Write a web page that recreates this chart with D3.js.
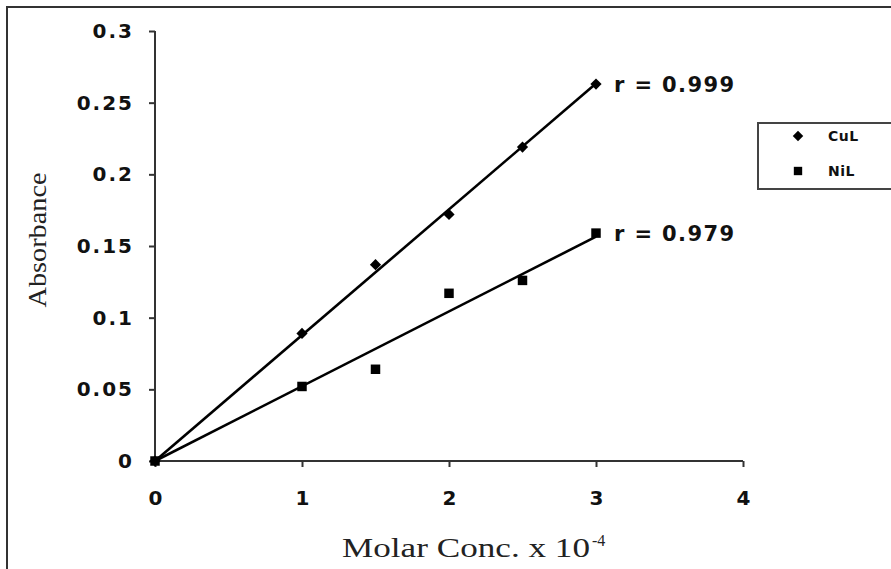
<!DOCTYPE html>
<html>
<head>
<meta charset="utf-8">
<script src="https://cdn.jsdelivr.net/npm/d3@7"></script>
<style>
  body { margin: 0; background: #fff; }
</style>
</head>
<body>
<script>
const conc = [0, 1, 1.5, 2, 2.5, 3]
const cul = [0, 0.089, 0.137, 0.172, 0.219, 0.263]
const nil = [0, 0.052, 0.064, 0.117, 0.126, 0.159]
const series_names = ['CuL', 'NiL']
const r_labels = ['r = 0.999', 'r = 0.979']
const x_ticks = [0, 1, 2, 3, 4]
const y_ticks = [0, 0.05, 0.1, 0.15, 0.2, 0.25, 0.3]

const width = 891
const height = 569
const sans = 'DejaVu Sans, Verdana, sans-serif'
const serif = 'Liberation Serif, Times New Roman, serif'

const x = d3.scaleLinear().domain([0, 4]).range([155, 743])
const y = d3.scaleLinear().domain([0, 0.3]).range([461, 31])

// least squares through origin, as the trendline in the figure
const slope = (ys) => d3.sum(conc, (c, i) => c * ys[i]) / d3.sum(conc, (c) => c * c)

let svg = d3.select('body')
  .append('svg')
    .attr('width', width)
    .attr('height', height)

// frame
svg.append('rect')
  .attr('x', 7).attr('y', 7)
  .attr('width', width + 10).attr('height', height + 10)
  .attr('fill', 'none')
  .attr('stroke', '#333')
  .attr('stroke-width', 2)

// axes
let axis_x = d3.axisBottom(x).tickValues(x_ticks).tickFormat(d3.format('d')).tickSize(6)
let axis_y = d3.axisLeft(y).tickValues(y_ticks).tickFormat((d) => String(+d.toFixed(2))).tickSize(6)

let gx = svg.append('g')
  .attr('transform', 'translate(0,' + y(0) + ')')
  .call(axis_x)
let gy = svg.append('g')
  .attr('transform', 'translate(' + x(0) + ',0)')
  .call(axis_y)

for (const g of [gx, gy]) {
  g.select('.domain').attr('stroke', '#333').attr('stroke-width', 2)
  g.selectAll('.tick line').attr('stroke', '#333').attr('stroke-width', 2)
  g.selectAll('.tick text')
    .attr('font-family', sans)
    .attr('font-weight', 'bold')
    .attr('font-size', 20)
    .attr('fill', '#111')
}
gy.select('.domain').attr('d', 'M0,' + y(0.3) + 'V' + y(0))
gx.select('.domain').attr('d', 'M' + x(0) + ',0H' + x(4))
gy.selectAll('.tick text')
  .attr('x', -21)
  .attr('letter-spacing', 2)
gx.selectAll('.tick text')
  .attr('y', 30)
  .attr('dy', '0.71em')

// axis titles
svg.append('text')
  .attr('transform', 'translate(46,240)rotate(-90)')
  .attr('text-anchor', 'middle')
  .attr('font-family', serif)
  .attr('font-size', 25)
  .attr('fill', '#222')
  .attr('textLength', 135)
  .attr('lengthAdjust', 'spacingAndGlyphs')
  .text('Absorbance')

svg.append('text')
  .attr('x', 342).attr('y', 557)
  .attr('font-family', serif)
  .attr('font-size', 27)
  .attr('fill', '#222')
  .attr('textLength', 248)
  .attr('lengthAdjust', 'spacingAndGlyphs')
  .text('Molar Conc. x 10')
svg.append('text')
  .attr('x', 592).attr('y', 546)
  .attr('font-family', serif)
  .attr('font-size', 16)
  .attr('fill', '#222')
  .text('-4')

// trend lines
const line = d3.line().x((d) => x(d[0])).y((d) => y(d[1]))
const all = [cul, nil]
all.forEach((ys, k) => {
  const m = slope(ys)
  svg.append('path')
    .attr('d', line([[0, 0], [3, 3 * m]]))
    .attr('stroke', '#000')
    .attr('stroke-width', 2.6)
    .attr('fill', 'none')
  svg.append('text')
    .attr('x', x(3) + 18).attr('y', y(ys[ys.length - 1]))
    .attr('dy', '0.38em')
    .attr('font-family', sans)
    .attr('font-weight', 'bold')
    .attr('font-size', 21)
    .attr('fill', '#111')
    .attr('textLength', 120)
    .attr('lengthAdjust', 'spacing')
    .text(r_labels[k])
})

// points
const diamond = d3.symbol().type(d3.symbolDiamond2).size(80)
const square = d3.symbol().type(d3.symbolSquare).size(90)
svg.append('g').selectAll('path')
  .data(conc.map((c, i) => [c, cul[i]]))
  .join('path')
    .attr('transform', (d) => 'translate(' + x(d[0]) + ',' + y(d[1]) + ')')
    .attr('d', diamond)
    .attr('fill', '#000')
svg.append('g').selectAll('path')
  .data(conc.map((c, i) => [c, nil[i]]))
  .join('path')
    .attr('transform', (d) => 'translate(' + x(d[0]) + ',' + y(d[1]) + ')')
    .attr('d', square)
    .attr('fill', '#000')

// legend
let legend = svg.append('g')
legend.append('rect')
  .attr('x', 758).attr('y', 123)
  .attr('width', 150).attr('height', 66)
  .attr('fill', '#fff')
  .attr('stroke', '#444')
  .attr('stroke-width', 2)
const leg_sym = [d3.symbol().type(d3.symbolDiamond2).size(70), d3.symbol().type(d3.symbolSquare).size(70)]
series_names.forEach((name, k) => {
  legend.append('path')
    .attr('transform', 'translate(798,' + (136 + k * 35) + ')')
    .attr('d', leg_sym[k])
    .attr('fill', '#000')
  legend.append('text')
    .attr('x', 828).attr('y', 136 + k * 35)
    .attr('dy', '0.36em')
    .attr('font-family', sans)
    .attr('font-weight', 'bold')
    .attr('font-size', 14)
    .attr('letter-spacing', 0.5)
    .attr('fill', '#111')
    .text(name)
})
</script>
</body>
</html>
